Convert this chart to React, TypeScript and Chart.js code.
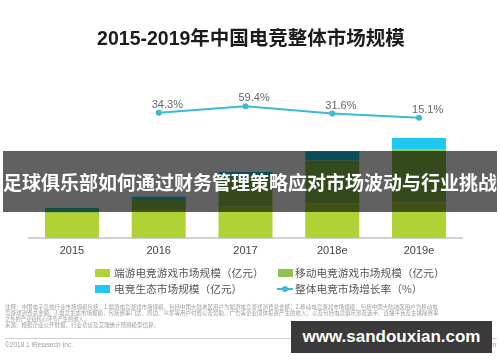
import React, { useEffect, useRef } from "react";
import { Chart, registerables } from "chart.js";

Chart.register(...registerables);

const years = ["2015", "2016", "2017", "2018e", "2019e"];
const pcEsports = [270, 300, 345, 370, 385];
const mobileEsports = [44, 122, 320, 471, 573];
const ecosystem = [12, 26, 50, 100, 125];
const growthRate: (number | null)[] = [null, 34.3, 59.4, 31.6, 15.1];

const seriesNames = [
  "端游电竞游戏市场规模（亿元）",
  "移动电竞游戏市场规模（亿元）",
  "电竞生态市场规模（亿元）",
  "整体电竞市场增长率（%）",
];

const titleText = "2015-2019年中国电竞整体市场规模";
const bannerText = "足球俱乐部如何通过财务管理策略应对市场波动与行业挑战";
const watermarkText = "www.sandouxian.com";
const footnoteLines = [
  "注释：中国电子竞技行业市场规模包括：1.端游电竞游戏市场规模，包括中国大陆地区用户为端游电竞游戏消费总金额；2.移动电竞游戏市场规模，包括中国大陆地区用户为移动电",
  "竞游戏消费总金额。3.电竞生态市场规模，包括赛事门票、周边、众筹等用户付费以及赞助、广告等企业团体投资产生的收入，以及包括电竞俱乐部及选手、直播平台及主播除赛事",
  "之外的产业链核心环节产生的收入。",
  "来源：根据企业公开财报、行业访谈及艾瑞统计预测模型估算。",
];
const copyrightText = "©2018.1 iResearch Inc.";
const siteText = "www.iresearch.com.cn";

const COLORS = {
  pc: "#b1d234",
  mobile: "#8cc34b",
  eco: "#1ec8f0",
  line: "#3bb9d6",
};

const pointLabelPlugin = {
  id: "pointLabels",
  afterDatasetsDraw(chart: any) {
    const ctx = chart.ctx;
    const meta = chart.getDatasetMeta(3);
    ctx.save();
    ctx.font = '11px "Liberation Sans", Arial, sans-serif';
    ctx.fillStyle = "#666";
    ctx.textAlign = "left";
    ctx.textBaseline = "middle";
    meta.data.forEach((pt: any, i: number) => {
      const v = growthRate[i];
      if (v == null) return;
      ctx.fillText(v.toFixed(1) + "%", pt.x - 7, pt.y - 8);
    });
    ctx.restore();
  },
};

const footnotePlugin = {
  id: "footnotes",
  afterDraw(chart: any) {
    const ctx = chart.ctx;
    ctx.save();
    ctx.fillStyle = "#9c9c9c";
    ctx.textBaseline = "middle";
    ctx.font = '5.5px "Noto Sans CJK SC", sans-serif';
    const ys = [307, 313, 319, 325];
    const widths = [492, 492, 84, 170];
    footnoteLines.forEach((t, i) => {
      ctx.fillText(t, 5, ys[i], widths[i]);
    });
    ctx.strokeStyle = "#cfcfcf";
    ctx.lineWidth = 1;
    ctx.beginPath();
    ctx.moveTo(5, 338.5);
    ctx.lineTo(497, 338.5);
    ctx.stroke();
    ctx.font = '6.5px "Liberation Sans", sans-serif';
    ctx.fillStyle = "#a0a0a0";
    ctx.fillText(copyrightText, 5, 345, 68);
    ctx.textAlign = "right";
    ctx.fillText(siteText, 496, 345, 66);
    ctx.restore();
  },
};

function LegendItems() {
  const textStyle = (left: number, cy: number): React.CSSProperties => ({
    position: "absolute",
    left,
    top: cy - 7,
    height: 14,
    lineHeight: "14px",
    fontSize: "10.7px",
    color: "#555",
    fontFamily: '"Noto Sans CJK SC", sans-serif',
    whiteSpace: "nowrap",
  });
  const box = (left: number, cy: number, color: string): React.CSSProperties => ({
    position: "absolute",
    left,
    top: cy - 4,
    width: 15,
    height: 8,
    background: color,
  });
  const r1 = 272.5;
  const r2 = 289;
  return (
    <>
      <div style={box(95, r1, COLORS.pc)} />
      <div style={textStyle(114, r1)}>{seriesNames[0]}</div>
      <div style={box(278, r1, COLORS.mobile)} />
      <div style={textStyle(295, r1)}>{seriesNames[1]}</div>
      <div style={box(95, r2, COLORS.eco)} />
      <div style={textStyle(114, r2)}>{seriesNames[2]}</div>
      <div
        style={{
          position: "absolute",
          left: 277,
          top: r2 - 1,
          width: 16,
          height: 2,
          background: COLORS.line,
        }}
      />
      <div
        style={{
          position: "absolute",
          left: 282,
          top: r2 - 3,
          width: 6,
          height: 6,
          borderRadius: 3,
          background: COLORS.line,
        }}
      />
      <div style={textStyle(295, r2)}>{seriesNames[3]}</div>
    </>
  );
}

export default function App() {
  const canvasRef = useRef<HTMLCanvasElement | null>(null);

  useEffect(() => {
    const canvas = canvasRef.current;
    if (!canvas) return;
    const barOpts = {
      type: "bar" as const,
      yAxisID: "y",
      stack: "s",
      order: 1,
      categoryPercentage: 0.8,
      barPercentage: 0.778,
    };
    const chart = new Chart(canvas, {
      type: "bar",
      data: {
        labels: years,
        datasets: [
          { ...barOpts, label: seriesNames[0], data: pcEsports, backgroundColor: COLORS.pc },
          { ...barOpts, label: seriesNames[1], data: mobileEsports, backgroundColor: COLORS.mobile },
          { ...barOpts, label: seriesNames[2], data: ecosystem, backgroundColor: COLORS.eco },
          {
            type: "line",
            label: seriesNames[3],
            data: growthRate,
            borderColor: COLORS.line,
            backgroundColor: COLORS.line,
            borderWidth: 2,
            pointRadius: 3,
            pointBorderWidth: 0,
            pointBackgroundColor: COLORS.line,
            yAxisID: "y2",
            order: 0,
            tension: 0,
          } as any,
        ],
      },
      options: {
        responsive: false,
        animation: false,
        devicePixelRatio: 1,
        layout: {
          padding: { left: 28.6, right: 37.6, top: 90, bottom: 98.8 },
        },
        plugins: {
          legend: { display: false },
          title: { display: false },
          tooltip: { enabled: false },
        },
        scales: {
          x: {
            stacked: true,
            grid: { display: false, drawTicks: false },
            border: { display: true, color: "#d2d2d2", width: 2 },
            ticks: {
              color: "#444",
              padding: 6,
              font: { family: '"Liberation Sans", Arial, sans-serif', size: 11 },
            },
          },
          y: {
            display: false,
            stacked: true,
            min: 0,
            max: 1604,
          },
          y2: {
            display: false,
            position: "right",
            min: -446.5,
            max: 121.8,
          },
        },
      },
      plugins: [pointLabelPlugin, footnotePlugin],
    });
    return () => chart.destroy();
  }, []);

  return (
    <div
      style={{
        position: "absolute",
        left: 0,
        top: 0,
        width: 500,
        height: 362,
        background: "#fff",
        overflow: "hidden",
      }}
    >
      <canvas
        ref={canvasRef}
        width={500}
        height={362}
        style={{ position: "absolute", left: 0, top: 0, width: 500, height: 362 }}
      />
      <div
        style={{
          position: "absolute",
          left: 0,
          width: 502,
          top: 25,
          height: 26,
          lineHeight: "26px",
          textAlign: "center",
          fontSize: "19.5px",
          fontWeight: 700,
          color: "#1c1c1c",
          fontFamily: '"Liberation Sans", "Noto Sans CJK SC", sans-serif',
          whiteSpace: "nowrap",
        }}
      >
        {titleText}
      </div>
      <LegendItems />
      <div
        style={{
          position: "absolute",
          left: 3,
          top: 151,
          width: 494,
          height: 61,
          background: "rgba(0,0,0,0.62)",
          color: "#fff",
          fontFamily: '"Noto Sans CJK SC", sans-serif',
          fontWeight: 700,
          fontSize: "19px",
          lineHeight: "61px",
          textAlign: "center",
          whiteSpace: "nowrap",
        }}
      >
        {bannerText}
      </div>
      <div
        style={{
          position: "absolute",
          left: 291,
          top: 321,
          width: 201,
          height: 32,
          background: "#3a3a3a",
          color: "#fff",
          fontFamily: '"Liberation Sans", Arial, sans-serif',
          fontWeight: 700,
          fontSize: "17px",
          lineHeight: "32px",
          textAlign: "center",
          whiteSpace: "nowrap",
        }}
      >
        {watermarkText}
      </div>
    </div>
  );
}
